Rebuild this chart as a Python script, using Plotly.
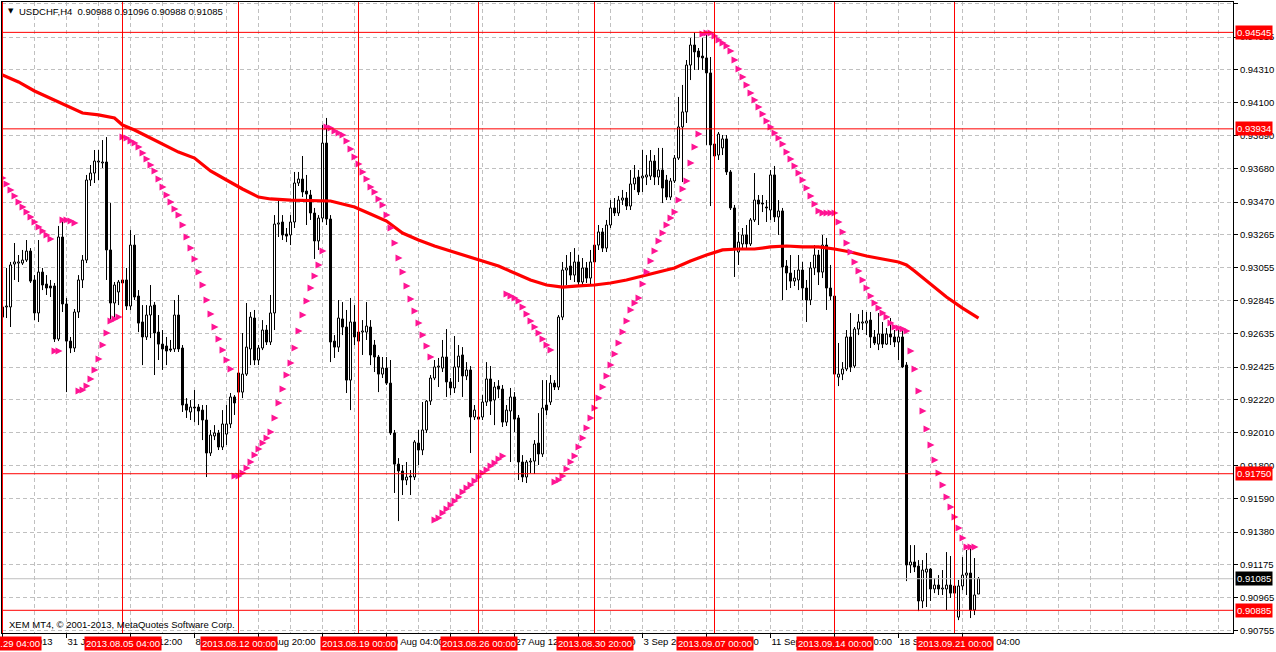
import plotly.graph_objects as go

# ---------------- data (USDCHF H4) ----------------
open_ = [
 0.92806,0.92806,0.92806,0.93078,0.93084,0.93084,0.93103,0.93160,0.92977,0.92768,
 0.93027,0.92951,0.92939,0.92939,0.92603,0.93249,0.92825,0.92590,0.92546,0.92774,
 0.92977,0.93103,0.93610,0.93654,0.93724,0.93718,0.93724,0.93167,0.92831,0.92901,
 0.92977,0.92977,0.92812,0.93198,0.92875,0.92711,0.92616,0.92755,0.92818,0.92647,
 0.92571,0.92559,0.92540,0.92540,0.92755,0.92546,0.92191,0.92141,0.92172,0.92172,
 0.92153,0.92090,0.91881,0.91989,0.92008,0.91919,0.92001,0.92065,0.92236,0.92388,
 0.92267,0.92381,0.92540,0.92736,0.92470,0.92546,0.92660,0.92584,0.92768,0.93331,
 0.93344,0.93268,0.93262,0.93344,0.93591,0.93616,0.93540,0.93515,0.93401,0.93224,
 0.93369,0.93844,0.93363,0.92590,0.92552,0.92730,0.92679,0.92343,0.92711,0.92647,
 0.92647,0.92647,0.92679,0.92565,0.92489,0.92381,0.92419,0.92324,0.92008,0.91811,
 0.91767,0.91710,0.91735,0.91729,0.91944,0.91900,0.92027,0.92210,0.92356,0.92426,
 0.92419,0.92489,0.92331,0.92293,0.92426,0.92502,0.92369,0.92407,0.92109,0.92109,
 0.92109,0.92204,0.92350,0.92217,0.92305,0.92286,0.92077,0.92147,0.92236,0.92103,
 0.91824,0.91729,0.91824,0.91830,0.91944,0.91875,0.92185,0.92204,0.92324,0.92299,
 0.92742,0.93040,0.93065,0.93008,0.93091,0.92964,0.93053,0.92989,0.93091,0.93198,
 0.93281,0.93179,0.93325,0.93433,0.93401,0.93483,0.93496,0.93445,0.93585,0.93629,
 0.93623,0.93629,0.93635,0.93730,0.93629,0.93673,0.93610,0.93502,0.93604,0.93749,
 0.93946,0.94041,0.94338,0.94465,0.94427,0.94395,0.94383,0.94288,0.93838,0.93768,
 0.93813,0.93870,0.93661,0.93433,0.93154,0.93205,0.93262,0.93205,0.93357,0.93483,
 0.93464,0.93439,0.93420,0.93642,0.93376,0.93414,0.93065,0.93021,0.92970,0.92977,
 0.93040,0.92926,0.92850,0.93053,0.93135,0.93027,0.93198,0.92926,0.92875,0.92362,
 0.92381,0.92413,0.92616,0.92432,0.92666,0.92704,0.92704,0.92723,0.92616,0.92571,
 0.92635,0.92571,0.92635,0.92616,0.92584,0.92616,0.92438,0.91172,0.91191,0.91165,
 0.90944,0.91127,0.91146,0.91020,0.91045,0.91020,0.91020,0.91045,0.91039,0.90842,
 0.91039,0.91108,0.91121,0.90887,0.90988]

high = [
 0.92945,0.93053,0.93091,0.93211,0.93135,0.93167,0.93230,0.93179,0.93008,0.93230,
 0.93053,0.93008,0.92977,0.92958,0.93319,0.93357,0.92863,0.92616,0.92793,0.93008,
 0.93135,0.93642,0.93705,0.93800,0.93800,0.93863,0.93882,0.93464,0.92964,0.92977,
 0.93008,0.93053,0.93293,0.93262,0.92913,0.92818,0.92818,0.92945,0.92837,0.92755,
 0.92660,0.92616,0.92597,0.92850,0.92882,0.92565,0.92229,0.92217,0.92280,0.92191,
 0.92185,0.92185,0.92027,0.92058,0.92027,0.92153,0.92185,0.92261,0.92248,0.92419,
 0.92641,0.92831,0.92774,0.92787,0.92565,0.92723,0.92692,0.92882,0.93388,0.93483,
 0.93388,0.93306,0.93388,0.93661,0.93661,0.93762,0.93642,0.93547,0.93433,0.93388,
 0.93958,0.94003,0.93388,0.92628,0.92850,0.92837,0.92787,0.92863,0.92818,0.92723,
 0.92723,0.92837,0.92723,0.92597,0.92502,0.92489,0.92489,0.92470,0.92027,0.91849,
 0.91805,0.91824,0.91773,0.91963,0.92027,0.92204,0.92217,0.92375,0.92470,0.92483,
 0.92597,0.92666,0.92356,0.92622,0.92565,0.92552,0.92457,0.92432,0.92185,0.92153,
 0.92248,0.92457,0.92432,0.92331,0.92343,0.92312,0.92185,0.92293,0.92267,0.92122,
 0.91868,0.91837,0.91849,0.91963,0.92134,0.92343,0.92343,0.92375,0.92343,0.92755,
 0.93091,0.93135,0.93154,0.93179,0.93135,0.93116,0.93091,0.93167,0.93230,0.93325,
 0.93306,0.93357,0.93483,0.93496,0.93509,0.93547,0.93534,0.93673,0.93705,0.93673,
 0.93800,0.93768,0.93800,0.93768,0.93813,0.93813,0.93642,0.93623,0.93768,0.94136,
 0.94212,0.94370,0.94509,0.94545,0.94446,0.94509,0.94528,0.94389,0.93895,0.93914,
 0.93895,0.93895,0.93673,0.93452,0.93281,0.93306,0.93325,0.93369,0.93654,0.93515,
 0.93515,0.93483,0.93673,0.93699,0.93483,0.93433,0.93103,0.93135,0.93040,0.93135,
 0.93091,0.92977,0.93091,0.93198,0.93167,0.93262,0.93243,0.93072,0.92913,0.92578,
 0.92457,0.92660,0.92768,0.92679,0.92761,0.92787,0.92774,0.92774,0.92660,0.92768,
 0.92711,0.92673,0.92736,0.92660,0.92673,0.92660,0.92457,0.91298,0.91298,0.91203,
 0.91203,0.91248,0.91153,0.91089,0.91108,0.91140,0.91254,0.91229,0.91064,0.91077,
 0.91222,0.91267,0.91298,0.91216,0.91096]

low = [
 0.92711,0.92736,0.92679,0.92977,0.92964,0.93072,0.93091,0.92958,0.92723,0.92711,
 0.92913,0.92882,0.92869,0.92584,0.92590,0.92774,0.92267,0.92514,0.92521,0.92736,
 0.92926,0.93084,0.93572,0.93591,0.93610,0.93686,0.92977,0.92723,0.92736,0.92818,
 0.92932,0.92787,0.92787,0.92850,0.92647,0.92438,0.92597,0.92609,0.92375,0.92470,
 0.92407,0.92438,0.92521,0.92521,0.92521,0.92141,0.92103,0.92090,0.92077,0.92058,
 0.91963,0.91729,0.91862,0.91963,0.91900,0.91900,0.91932,0.92039,0.92122,0.92248,
 0.92229,0.92369,0.92438,0.92438,0.92438,0.92533,0.92565,0.92565,0.92660,0.93249,
 0.93230,0.93217,0.93198,0.93306,0.93572,0.93502,0.93325,0.93357,0.93110,0.93167,
 0.93344,0.93325,0.92457,0.92483,0.92521,0.92628,0.92261,0.92153,0.92565,0.92521,
 0.92502,0.92597,0.92438,0.92394,0.92267,0.92356,0.92312,0.91995,0.91628,0.91450,
 0.91615,0.91678,0.91615,0.91710,0.91805,0.91868,0.92008,0.92185,0.92343,0.92299,
 0.92394,0.92236,0.92248,0.92261,0.92331,0.92236,0.92343,0.91881,0.92090,0.92071,
 0.92090,0.92179,0.92122,0.92058,0.92229,0.92046,0.92052,0.91824,0.92014,0.91710,
 0.91697,0.91691,0.91754,0.91748,0.91805,0.91856,0.92122,0.92185,0.92280,0.92280,
 0.92723,0.92945,0.92977,0.92964,0.92939,0.92945,0.92958,0.92939,0.93065,0.93167,
 0.93154,0.93154,0.93306,0.93382,0.93382,0.93452,0.93420,0.93420,0.93547,0.93515,
 0.93534,0.93578,0.93610,0.93578,0.93578,0.93464,0.93483,0.93483,0.93591,0.93737,
 0.93597,0.93971,0.94243,0.94307,0.94307,0.94307,0.93832,0.93445,0.93547,0.93737,
 0.93768,0.93642,0.93420,0.92996,0.93072,0.93167,0.93167,0.93192,0.93344,0.93325,
 0.93407,0.93344,0.93357,0.93344,0.93262,0.92850,0.92913,0.92926,0.92939,0.92913,
 0.92850,0.92711,0.92818,0.93008,0.92945,0.92989,0.92787,0.92850,0.92337,0.92305,
 0.92343,0.92400,0.92394,0.92419,0.92628,0.92660,0.92628,0.92546,0.92565,0.92533,
 0.92546,0.92565,0.92565,0.92552,0.92470,0.92419,0.91070,0.91121,0.91127,0.90880,
 0.90899,0.90906,0.90944,0.90994,0.90982,0.90982,0.90887,0.90963,0.90874,0.90823,
 0.91013,0.90982,0.90836,0.90855,0.90988]

close = [
 0.92742,0.92812,0.93072,0.93091,0.93091,0.93103,0.93160,0.92970,0.92768,0.93027,
 0.92945,0.92926,0.92926,0.92603,0.93249,0.92825,0.92590,0.92546,0.92774,0.92977,
 0.93103,0.93610,0.93654,0.93730,0.93730,0.93724,0.93167,0.92831,0.92945,0.92964,
 0.92958,0.92812,0.93198,0.92869,0.92704,0.92616,0.92755,0.92812,0.92641,0.92571,
 0.92540,0.92527,0.92533,0.92755,0.92540,0.92185,0.92153,0.92172,0.92166,0.92147,
 0.92090,0.91881,0.91995,0.92008,0.91919,0.92065,0.92065,0.92236,0.92198,0.92267,
 0.92381,0.92552,0.92742,0.92470,0.92546,0.92660,0.92584,0.92768,0.93331,0.93338,
 0.93262,0.93255,0.93344,0.93591,0.93616,0.93534,0.93521,0.93401,0.93224,0.93369,
 0.93844,0.93363,0.92584,0.92552,0.92736,0.92679,0.92343,0.92711,0.92616,0.92590,
 0.92654,0.92685,0.92502,0.92489,0.92381,0.92419,0.92324,0.92008,0.91811,0.91767,
 0.91710,0.91729,0.91729,0.91951,0.91900,0.92027,0.92210,0.92356,0.92426,0.92432,
 0.92489,0.92331,0.92293,0.92426,0.92495,0.92369,0.92407,0.92109,0.92153,0.92096,
 0.92204,0.92350,0.92210,0.92299,0.92286,0.92077,0.92153,0.92236,0.92096,0.91824,
 0.91729,0.91824,0.91830,0.91938,0.91875,0.92166,0.92153,0.92324,0.92299,0.92742,
 0.93040,0.93053,0.93008,0.93091,0.92964,0.93053,0.92989,0.93091,0.93198,0.93281,
 0.93179,0.93325,0.93433,0.93401,0.93483,0.93496,0.93445,0.93585,0.93623,0.93534,
 0.93635,0.93642,0.93730,0.93629,0.93673,0.93559,0.93502,0.93604,0.93749,0.93946,
 0.94041,0.94338,0.94465,0.94421,0.94389,0.94383,0.94288,0.93832,0.93762,0.93901,
 0.93870,0.93661,0.93433,0.93179,0.93217,0.93262,0.93205,0.93357,0.93483,0.93458,
 0.93458,0.93433,0.93642,0.93376,0.93414,0.93059,0.93021,0.92970,0.92989,0.93040,
 0.92926,0.92850,0.93053,0.93135,0.93027,0.93198,0.92926,0.92875,0.92381,0.92381,
 0.92413,0.92616,0.92426,0.92666,0.92711,0.92711,0.92717,0.92616,0.92578,0.92635,
 0.92571,0.92635,0.92616,0.92584,0.92616,0.92426,0.91172,0.91191,0.91159,0.90944,
 0.91140,0.91146,0.91020,0.91045,0.91020,0.91026,0.91045,0.90994,0.90994,0.91039,
 0.91108,0.91121,0.90887,0.90982,0.91085]

# Parabolic SAR, one value per bar
sar = [
 0.93661,0.93623,0.93585,0.93547,0.93509,0.93471,0.93439,0.93407,0.93376,0.93344,
 0.93312,0.93287,0.93262,0.93236,0.92527,0.92527,0.93357,0.93357,0.93350,0.93338,
 0.92274,0.92280,0.92305,0.92350,0.92407,0.92476,0.92565,0.92641,0.92717,0.92730,
 0.92742,0.93882,0.93876,0.93857,0.93844,0.93819,0.93781,0.93743,0.93705,0.93667,
 0.93616,0.93566,0.93515,0.93471,0.93426,0.93388,0.93325,0.93249,0.93179,0.93110,
 0.93027,0.92945,0.92850,0.92761,0.92679,0.92603,0.92533,0.92470,0.92413,0.91735,
 0.91735,0.91754,0.91786,0.91824,0.91868,0.91906,0.91944,0.91976,0.92014,0.92103,
 0.92198,0.92286,0.92375,0.92451,0.92546,0.92654,0.92755,0.92844,0.92926,0.93002,
 0.93072,0.93160,0.93946,0.93939,0.93920,0.93908,0.93895,0.93857,0.93806,0.93756,
 0.93711,0.93661,0.93616,0.93566,0.93534,0.93490,0.93452,0.93388,0.93306,0.93211,
 0.93116,0.93027,0.92939,0.92856,0.92780,0.92704,0.92628,0.92559,0.92489,0.91457,
 0.91469,0.91501,0.91526,0.91552,0.91577,0.91602,0.91634,0.91659,0.91678,0.91704,
 0.91729,0.91754,0.91773,0.91799,0.91818,0.91843,0.91862,0.92888,0.92875,0.92863,
 0.92844,0.92806,0.92761,0.92717,0.92679,0.92641,0.92603,0.92565,0.92533,0.91697,
 0.91710,0.91735,0.91780,0.91824,0.91862,0.91919,0.91976,0.92039,0.92103,0.92166,
 0.92229,0.92299,0.92369,0.92438,0.92508,0.92578,0.92647,0.92717,0.92787,0.92831,
 0.92863,0.92951,0.93027,0.93097,0.93160,0.93224,0.93274,0.93325,0.93369,0.93407,
 0.93483,0.93553,0.93604,0.93718,0.93819,0.93901,0.94535,0.94541,0.94541,0.94522,
 0.94497,0.94478,0.94459,0.94427,0.94370,0.94313,0.94262,0.94212,0.94161,0.94117,
 0.94072,0.94028,0.93984,0.93946,0.93908,0.93876,0.93838,0.93787,0.93743,0.93699,
 0.93654,0.93610,0.93559,0.93509,0.93458,0.93414,0.93401,0.93401,0.93401,0.93401,
 0.93344,0.93281,0.93211,0.93154,0.93091,0.93034,0.92977,0.92926,0.92875,0.92831,
 0.92799,0.92768,0.92742,0.92704,0.92679,0.92673,0.92666,0.92654,0.92527,0.92413,
 0.92274,0.92147,0.92033,0.91932,0.91837,0.91754,0.91678,0.91602,0.91539,0.91476,
 0.91406,0.91343,0.91286,0.91286,0.91286]

# moving average, read at selected bars
ma_bars = [0, 4, 8, 12, 16, 20, 24, 28, 30, 33, 36, 40, 44, 48, 52, 56, 60, 64, 67, 72,
           78, 82, 85, 88, 92, 96, 100, 104, 108, 112, 116, 120, 124, 128, 132, 136, 140,
           144, 148, 152, 156, 160, 164, 168, 172, 176, 180, 184, 188, 192, 196, 200, 204,
           208, 212, 216, 220, 224, 226, 228, 232, 236, 240, 244]
ma_vals = [0.94275, 0.94231, 0.94174, 0.94129, 0.94079, 0.94034, 0.94022, 0.94003, 0.93958,
           0.93927, 0.93889, 0.93838, 0.93787, 0.93749, 0.93667, 0.93610, 0.93553, 0.93502,
           0.93490, 0.93483, 0.93477, 0.93477, 0.93458, 0.93439, 0.93395, 0.93350, 0.93274,
           0.93230, 0.93192, 0.93160, 0.93129, 0.93097, 0.93065, 0.93021, 0.92977, 0.92945,
           0.92932, 0.92939, 0.92945, 0.92958, 0.92977, 0.93002, 0.93027, 0.93053, 0.93097,
           0.93135, 0.93167, 0.93173, 0.93173, 0.93186, 0.93192, 0.93186, 0.93186, 0.93173,
           0.93154, 0.93129, 0.93110, 0.93091, 0.93072, 0.93034, 0.92951, 0.92869, 0.92799,
           0.92736]

level_lines = [0.94545, 0.93934, 0.91750, 0.90885]
bid_price = 0.91085

vline_bars = [0, 30, 59, 89, 119, 148, 178, 208, 238]
vline_labels = ["2013.07.29 04:00", "2013.08.05 04:00", "2013.08.12 00:00", "2013.08.19 00:00",
                "2013.08.26 00:00", "2013.08.30 20:00", "2013.09.07 00:00", "2013.09.14 00:00",
                "2013.09.21 00:00"]

time_tick_bars = [0, 16, 32, 48, 64, 80, 96, 112, 128, 144, 160, 176, 192, 208, 224, 240]
time_tick_labels = ["29 Jul 2013", "31 Jul 20:00", "5 Aug 12:00", "8 Aug 04:00", "12 Aug 20:00",
                    "15 Aug 12:00", "20 Aug 04:00", "22 Aug 20:00", "27 Aug 12:00", "30 Aug 04:00",
                    "3 Sep 20:00", "6 Sep 12:00", "11 Sep 04:00", "13 Sep 20:00", "18 Sep 12:00",
                    "23 Sep 04:00"]

price_ticks = [0.94725, 0.94515, 0.94310, 0.94100, 0.93890, 0.93680, 0.93470, 0.93265, 0.93055,
               0.92845, 0.92635, 0.92425, 0.92220, 0.92010, 0.91800, 0.91590, 0.91380, 0.91175,
               0.90965, 0.90755]

title_text = "USDCHF,H4  0.90988 0.91096 0.90988 0.91085"
copyright_text = "XEM MT4, © 2001-2013, MetaQuotes Software Corp."

# ---------------- figure ----------------
FONT = "Liberation Sans"
FS = 9.5
GRID = "#C0C0C0"
n = len(close)
bars = list(range(n))

fig = go.Figure()

# candle bodies
body_base = [min(o, c) for o, c in zip(open_, close)]
body_h = [max(abs(c - o), 0.000005) for o, c in zip(open_, close)]
body_col = ["white" if c >= o else "black" for o, c in zip(open_, close)]
fig.add_trace(go.Bar(x=bars, base=body_base, y=body_h, width=0.5,
                     marker=dict(color=body_col, line=dict(color="black", width=1)),
                     hoverinfo="skip", showlegend=False))

# wicks (outside the body only)
wx, wy = [], []
for i in bars:
    top = max(open_[i], close[i])
    bot = min(open_[i], close[i])
    wx += [i, i, None, i, i, None]
    wy += [high[i], top, None, bot, low[i], None]
fig.add_trace(go.Scatter(x=wx, y=wy, mode="lines", line=dict(color="black", width=1),
                         hoverinfo="skip", showlegend=False))

# moving average
fig.add_trace(go.Scatter(x=ma_bars, y=ma_vals, mode="lines",
                         line=dict(color="#FF0000", width=3.2), hoverinfo="skip", showlegend=False))

# parabolic SAR
fig.add_trace(go.Scatter(x=bars, y=sar, mode="markers",
                         marker=dict(symbol="arrow-right", size=7, color="#FF1493",
                                     line=dict(width=0)),
                         hoverinfo="skip", showlegend=False))

# horizontal & vertical object lines
for lv in level_lines:
    fig.add_shape(type="line", xref="paper", x0=0, x1=1, yref="y", y0=lv, y1=lv,
                  line=dict(color="#FF0000", width=1))
fig.add_shape(type="line", xref="paper", x0=0, x1=1, yref="y", y0=bid_price, y1=bid_price,
              line=dict(color="#C0C0C0", width=1))
for vb in vline_bars:
    fig.add_shape(type="line", xref="x", x0=vb, x1=vb, yref="paper", y0=0, y1=1,
                  line=dict(color="#FF0000", width=1))

annotations = []
# price labels of the object lines on the right axis
for lv in level_lines:
    annotations.append(dict(xref="paper", x=1, xshift=2, xanchor="left", yref="y", y=lv,
                            yanchor="middle", text=f"{lv:.5f}", showarrow=False,
                            bgcolor="#FF0000", borderpad=1,
                            font=dict(family=FONT, size=FS, color="white")))
annotations.append(dict(xref="paper", x=1, xshift=2, xanchor="left", yref="y", y=bid_price,
                        yanchor="middle", text=f"{bid_price:.5f}", showarrow=False,
                        bgcolor="#000000", borderpad=1,
                        font=dict(family=FONT, size=FS, color="white")))
# time labels of the vertical lines
for vb, lab in zip(vline_bars, vline_labels):
    annotations.append(dict(xref="x", x=vb, xanchor="center", yref="paper", y=0, yanchor="top",
                            yshift=-3, text=lab, showarrow=False, bgcolor="#FF0000", borderpad=1,
                            font=dict(family=FONT, size=FS, color="white")))
# chart title
annotations.append(dict(xref="paper", x=0, xshift=4, xanchor="left", yref="paper", y=1,
                        yshift=-3, yanchor="top", text="▼", showarrow=False,
                        font=dict(family="DejaVu Sans", size=7, color="black")))
annotations.append(dict(xref="paper", x=0, xshift=15, xanchor="left", yref="paper", y=1,
                        yshift=-2, yanchor="top", text=title_text, showarrow=False,
                        font=dict(family=FONT, size=FS, color="black")))
annotations.append(dict(xref="paper", x=0, xshift=5, xanchor="left", yref="paper", y=0,
                        yshift=1, yanchor="bottom", text=copyright_text, showarrow=False,
                        font=dict(family=FONT, size=FS, color="black")))

fig.update_layout(
    width=1276, height=652,
    margin=dict(l=2, r=43, t=2, b=19, autoexpand=False),
    paper_bgcolor="white", plot_bgcolor="white",
    showlegend=False, barmode="overlay",
    annotations=annotations,
    xaxis=dict(range=[-0.125, 307.625], tickmode="array", tickvals=time_tick_bars,
               ticktext=time_tick_labels, ticks="outside", ticklen=4, tickcolor="black",
               ticklabelposition="outside right", tickangle=0, automargin=False,
               tickfont=dict(family=FONT, size=FS, color="black"),
               showgrid=True, gridcolor=GRID, griddash="4px,3px", gridwidth=1,
               minor=dict(tickmode="array", tickvals=list(range(0, 308, 8)), showgrid=True,
                          gridcolor=GRID, griddash="4px,3px", ticks=""),
               showline=True, linecolor="black", linewidth=1, mirror=True, zeroline=False,
               fixedrange=True),
    yaxis=dict(range=[0.907413, 0.947373], side="right", tickmode="array",
               tickvals=price_ticks, ticktext=[f"{p:.5f}" for p in price_ticks],
               ticks="outside", ticklen=4, tickcolor="black", automargin=False,
               tickfont=dict(family=FONT, size=FS, color="black"),
               showgrid=True, gridcolor=GRID, griddash="4px,3px", gridwidth=1,
               showline=True, linecolor="black", linewidth=1, mirror=True, zeroline=False,
               fixedrange=True),
)

fig.write_html("out.html", config={"displayModeBar": False, "staticPlot": True},
               post_script="document.body.style.margin='0px';document.body.style.overflow='hidden';")
